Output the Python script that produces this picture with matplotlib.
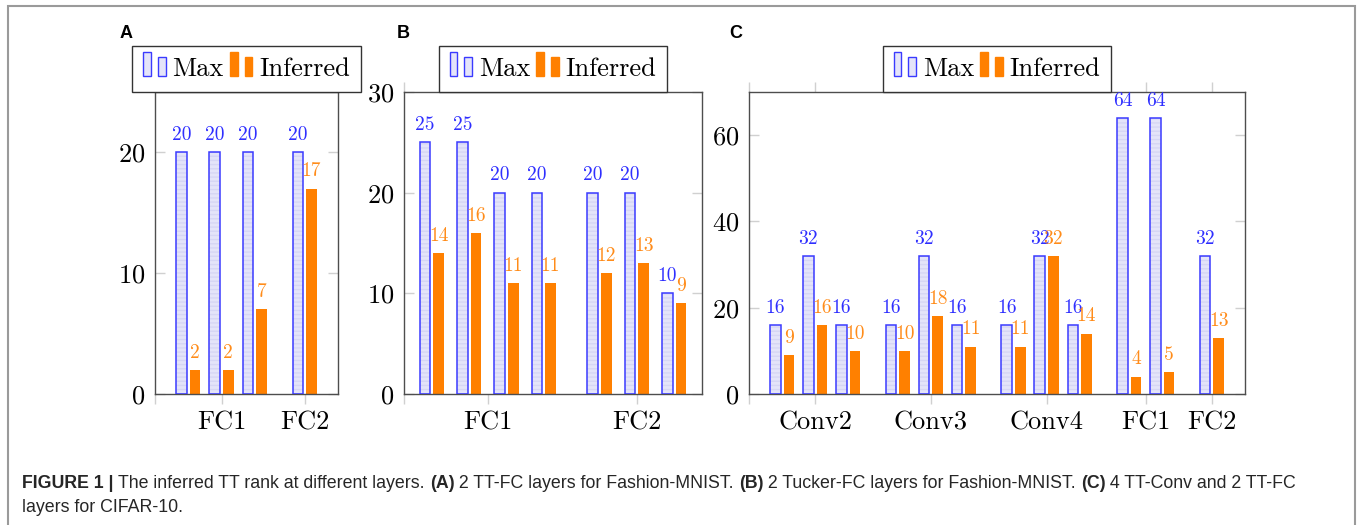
import matplotlib
matplotlib.use("Agg")
import matplotlib.pyplot as plt
from matplotlib.patches import Rectangle
from matplotlib.legend_handler import HandlerBase

# ---------- DATA ----------
a_groups = ["FC1", "FC2"]
a_counts = [3, 1]
a_max = [20, 20, 20, 20]
a_inferred = [2, 2, 7, 17]

b_groups = ["FC1", "FC2"]
b_counts = [4, 3]
b_max = [25, 25, 20, 20, 20, 20, 10]
b_inferred = [14, 16, 11, 11, 12, 13, 9]

c_groups = ["Conv2", "Conv3", "Conv4", "FC1", "FC2"]
c_counts = [3, 3, 3, 2, 1]
c_max = [16, 32, 16, 16, 32, 16, 16, 32, 16, 64, 64, 32]
c_inferred = [9, 16, 10, 10, 18, 11, 11, 32, 14, 4, 5, 13]

# ---------- STYLE ----------
W, H = 1357, 525
BLUE = "#3a3aff"
BLUE_TXT = "#2f2fff"
LAVENDER = "#e4e4f9"
STRIPE = "#d6d6f4"
ORANGE = "#ff8000"
ORANGE_TXT = "#ff8c1a"
SPINE = "#4d4d4d"
TICK = "#d0d0d0"

plt.rcParams["font.family"] = "cmr10"
plt.rcParams["mathtext.fontset"] = "cm"
plt.rcParams["axes.formatter.use_mathtext"] = True
plt.rcParams["hatch.linewidth"] = 1.0


class TwoBars(HandlerBase):
    def __init__(self, face, edge):
        super().__init__()
        self.face, self.edge = face, edge

    def create_artists(self, legend, orig, xd, yd, width, height, fontsize, trans):
        bw = width * 0.34
        out = []
        for x0, hh in [(0, 1.27 * height), (width - bw, 1.0 * height)]:
            r = Rectangle((x0 - xd, -yd), bw, hh, facecolor=self.face,
                          edgecolor=self.edge, lw=1.0, transform=trans)
            out.append(r)
        return out


def panel(rect, groups, counts, centers, xlim, vmax, vinf, ylim, yticks, letter, letter_x):
    ax = fig.add_axes([rect[0] / W, 1 - rect[3] / H, (rect[1] - rect[0]) / W, (rect[3] - rect[2]) / H])
    ax.set_xlim(*xlim)
    ax.set_ylim(*ylim)
    upx = (rect[1] - rect[0]) / (xlim[1] - xlim[0])  # pixels per x unit
    bw = 10.7 / upx
    off = 6.8 / upx

    pos = []
    for c, n in zip(centers, counts):
        pos += [c + i - (n - 1) / 2 for i in range(n)]
    xm = [p - off for p in pos]
    xi = [p + off for p in pos]

    ax.bar(xm, vmax, width=bw, color=LAVENDER, edgecolor=STRIPE, lw=0, hatch="----", zorder=2)
    ax.bar(xm, vmax, width=bw, fill=False, edgecolor=BLUE, lw=1.1, zorder=3)
    ax.bar(xi, vinf, width=bw, color=ORANGE, lw=0, zorder=2)

    for x, v in zip(xm, vmax):
        ax.annotate(str(v), (x, v), xytext=(0, 6), textcoords="offset points",
                    ha="center", va="bottom", fontsize=14, color=BLUE_TXT)
    for x, v in zip(xi, vinf):
        ax.annotate(str(v), (x, v), xytext=(0, 6), textcoords="offset points",
                    ha="center", va="bottom", fontsize=14, color=ORANGE_TXT)

    ax.set_xticks([xlim[0]] + list(centers))
    ax.set_xticklabels([""] + groups)
    ax.set_yticks(yticks)
    ax.tick_params(axis="x", direction="out", length=7, width=1, color=TICK,
                   labelsize=19, pad=5, top=True)
    ax.tick_params(axis="y", direction="in", length=7, width=1, color=TICK,
                   labelsize=19, pad=7, right=True)
    for s in ax.spines.values():
        s.set_color(SPINE)
        s.set_linewidth(1.0)

    hm = Rectangle((0, 0), 1, 1)
    hi = Rectangle((0, 0), 1, 1)
    leg = ax.legend([hm, hi], ["Max", "Inferred"], ncol=2, loc="lower center",
                    bbox_to_anchor=(0.5, 1.0), borderaxespad=0, fontsize=19,
                    handler_map={hm: TwoBars(LAVENDER, BLUE), hi: TwoBars(ORANGE, ORANGE)},
                    handlelength=0.85, handleheight=0.7, handletextpad=0.25,
                    columnspacing=0.25, borderpad=0.42, fancybox=False, framealpha=1)
    leg.get_frame().set_edgecolor("#333333")
    leg.get_frame().set_linewidth(1.0)

    fig.text(letter_x / W, 1 - 34 / H, letter, fontsize=13, fontweight="bold",
             family="Liberation Sans", va="center", ha="left")
    return ax


fig = plt.figure(figsize=(W / 100, H / 100), dpi=100)

panel((155, 338, 92, 394), a_groups, a_counts, [0, 2.5], (-2, 3.5),
      a_max, a_inferred, (0, 25), [0, 10, 20], "A", 120)
panel((404, 702, 92, 394), b_groups, b_counts, [0, 4], (-2.25, 5.75),
      b_max, b_inferred, (0, 30), [0, 10, 20, 30], "B", 397)
panel((749, 1245, 92, 394), c_groups, c_counts, [0, 3.5, 7, 10, 12], (-2, 13),
      c_max, c_inferred, (0, 70), [0, 20, 40, 60], "C", 729)

# outer frame
fig.add_artist(Rectangle((8 / W, -0.1), (1355 - 8) / W, 1.1 - 6 / H, transform=fig.transFigure,
                         fill=False, edgecolor="#9a9a9a", lw=1.5))

# ---------- CAPTION ----------
cap_font = ["Liberation Sans", "DejaVu Sans"]
line1 = [("FIGURE 1 | ", "bold"), ("The inferred TT rank at different layers. ", "normal"),
         ("(A)", "bold"), (" 2 TT-FC layers for Fashion-MNIST. ", "normal"),
         ("(B)", "bold"), (" 2 Tucker-FC layers for Fashion-MNIST. ", "normal"),
         ("(C)", "bold"), (" 4 TT-Conv and 2 TT-FC", "normal")]
r = fig.canvas.get_renderer()
x = 22
for s, wgt in line1:
    t = fig.text(x / W, 1 - 488 / H, s, fontsize=12.8, fontweight=wgt, family=cap_font,
                 color="#262626", va="baseline", ha="left")
    x += t.get_window_extent(r).width
fig.text(22 / W, 1 - 512 / H, "layers for CIFAR-10.", fontsize=12.8, family=cap_font,
         color="#262626", va="baseline", ha="left")

fig.savefig("out.png", dpi=100)
